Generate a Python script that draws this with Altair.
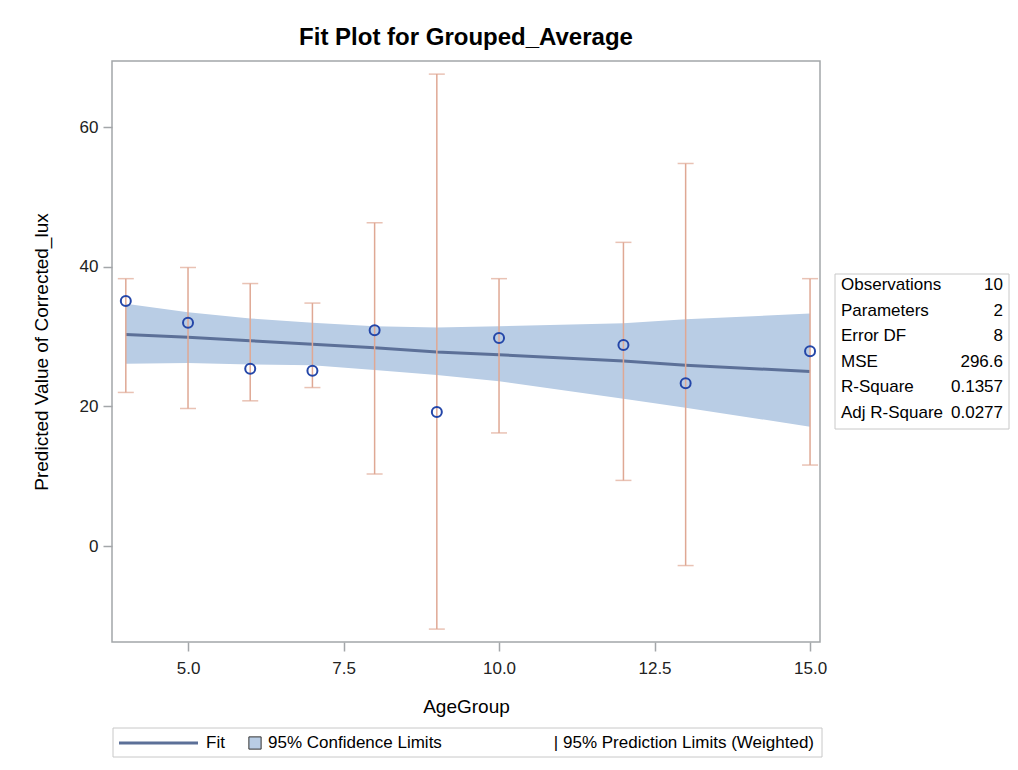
import altair as alt
import pandas as pd

# ---- data ----
age = [4, 5, 6, 7, 8, 9, 10, 12, 13, 15]
observed = [35.1, 32.0, 25.4, 25.1, 30.9, 19.2, 29.8, 28.8, 23.3, 27.9]
fit = [30.3, 29.9, 29.4, 28.9, 28.4, 27.8, 27.4, 26.5, 25.9, 25.0]
clm_lower = [26.1, 26.2, 26.0, 25.9, 25.2, 24.5, 23.6, 21.1, 19.8, 17.1]
clm_upper = [34.7, 33.5, 32.6, 32.0, 31.5, 31.3, 31.5, 31.9, 32.5, 33.3]
pl_lower = [22.0, 19.7, 20.8, 22.7, 10.3, -11.9, 16.2, 9.4, -2.8, 11.6]
pl_upper = [38.3, 39.9, 37.6, 34.8, 46.3, 67.6, 38.3, 43.5, 54.8, 38.3]

x_ticks = [5.0, 7.5, 10.0, 12.5, 15.0]
y_ticks = [0, 20, 40, 60]

stat_labels = ["Observations", "Parameters", "Error DF", "MSE", "R-Square", "Adj R-Square"]
stat_values = ["10", "2", "8", "296.6", "0.1357", "0.0277"]

legend_fit = "Fit"
legend_clm = "95% Confidence Limits"
legend_pl = "| 95% Prediction Limits (Weighted)"

df = pd.DataFrame({
    "age": age, "observed": observed, "fit": fit,
    "clm_lower": clm_lower, "clm_upper": clm_upper,
    "pl_lower": pl_lower, "pl_upper": pl_upper,
})

FONT = "Liberation Sans"
BAND = "#B9CDE5"
FITC = "#5C7098"
ERR = "#DFA894"
PT = "#2446A8"
FRAME = "#A3A6A9"

xscale = alt.Scale(domain=[3.778, 15.16], nice=False, zero=False)
yscale = alt.Scale(domain=[-13.75, 69.48], nice=False, zero=False)
xaxis = alt.Axis(title="AgeGroup", values=x_ticks, format=".1f", grid=False,
                 domain=False, tickSize=9, tickColor=FRAME, tickWidth=1.5,
                 labelPadding=9, titlePadding=21,
                 labelFont=FONT, labelFontSize=17, labelColor="#222222",
                 titleFont=FONT, titleFontSize=19, titleFontWeight="normal", titleColor="black")
yaxis = alt.Axis(title="Predicted Value of Corrected_lux", values=y_ticks, grid=False,
                 domain=False, tickSize=9, tickColor=FRAME, tickWidth=1.5,
                 labelPadding=5, titlePadding=28,
                 labelFont=FONT, labelFontSize=17, labelColor="#222222",
                 titleFont=FONT, titleFontSize=19, titleFontWeight="normal", titleColor="black")


def X(f="age"):
    return alt.X(f"{f}:Q", scale=xscale, axis=xaxis)


def Y(f):
    return alt.Y(f"{f}:Q", scale=yscale, axis=yaxis)


base = alt.Chart(df)
band = base.mark_area(color=BAND, opacity=1).encode(x=X(), y=Y("clm_lower"), y2="clm_upper:Q")
fitline = base.mark_line(color=FITC, strokeWidth=3).encode(x=X(), y=Y("fit"))
rules = base.mark_rule(color=ERR, strokeWidth=1.5).encode(x=X(), y=Y("pl_lower"), y2="pl_upper:Q")
cap_lo = base.mark_tick(color=ERR, orient="horizontal", size=16, thickness=1.5).encode(x=X(), y=Y("pl_lower"))
cap_hi = base.mark_tick(color=ERR, orient="horizontal", size=16, thickness=1.5).encode(x=X(), y=Y("pl_upper"))
points = base.mark_point(shape="circle", filled=False, color=PT, size=100, strokeWidth=2, opacity=1).encode(
    x=X(), y=Y("observed"))

one = alt.Chart(pd.DataFrame({"k": [0]}))

# statistics box (right side)
stat_box = one.mark_rect(fill="white", stroke="#C8C8C8", strokeWidth=1).encode(
    x=alt.value(723), x2=alt.value(897), y=alt.value(213), y2=alt.value(368))
stat_layers = [stat_box]
for i, (lab, val) in enumerate(zip(stat_labels, stat_values)):
    yy = 224 + i * 25.6
    stat_layers.append(one.mark_text(text=lab, align="left", baseline="middle", font=FONT,
                                     fontSize=17, color="black").encode(x=alt.value(729), y=alt.value(yy)))
    stat_layers.append(one.mark_text(text=val, align="right", baseline="middle", font=FONT,
                                     fontSize=17, color="black").encode(x=alt.value(891), y=alt.value(yy)))

# bottom legend
LY = 682
leg_box = one.mark_rect(fill="white", stroke="#C8C8C8", strokeWidth=1).encode(
    x=alt.value(1), x2=alt.value(710), y=alt.value(667), y2=alt.value(696))
leg_line = one.mark_rule(color=FITC, strokeWidth=3).encode(x=alt.value(7), x2=alt.value(86), y=alt.value(LY))
leg_fit = one.mark_text(text=legend_fit, align="left", baseline="middle", font=FONT, fontSize=17,
                        color="black").encode(x=alt.value(94), y=alt.value(LY))
leg_sq = one.mark_point(shape="square", filled=True, fill=BAND, stroke="#333333", strokeWidth=1,
                        size=150, opacity=1).encode(x=alt.value(143), y=alt.value(LY))
leg_clm = one.mark_text(text=legend_clm, align="left", baseline="middle", font=FONT, fontSize=17,
                        color="black").encode(x=alt.value(156), y=alt.value(LY))
leg_pl = one.mark_text(text=legend_pl, align="right", baseline="middle", font=FONT, fontSize=17,
                       color="black").encode(x=alt.value(702), y=alt.value(LY))

chart = alt.layer(
    band, fitline, rules, cap_lo, cap_hi, points,
    *stat_layers, leg_box, leg_line, leg_fit, leg_sq, leg_clm, leg_pl,
).properties(
    width=708, height=581,
    title=alt.TitleParams("Fit Plot for Grouped_Average", font=FONT, fontSize=24, fontWeight="bold",
                          anchor="middle", offset=11, color="black"),
    autosize=alt.AutoSizeParams(type="none"),
    padding={"left": 104, "top": 53, "right": 190, "bottom": 117},
    background="white",
).configure_view(stroke=FRAME, strokeWidth=1.5)

chart.save("out.html", embed_options={"renderer": "svg", "actions": False})
